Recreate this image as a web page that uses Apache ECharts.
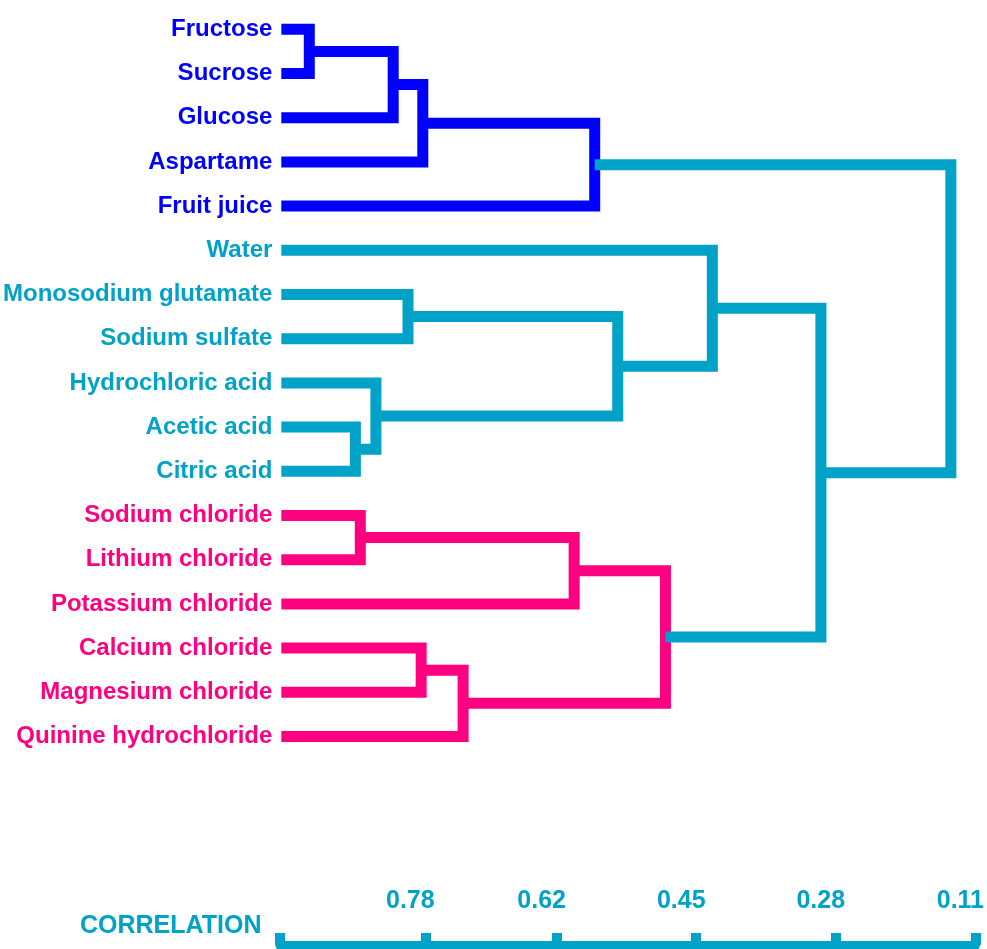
<!DOCTYPE html>
<html>
<head>
<meta charset="utf-8">
<script src="https://cdn.jsdelivr.net/npm/echarts@6/dist/echarts.min.js"></script>
<style>
  html, body { margin: 0; padding: 0; background: #ffffff; }
  #chart { width: 987px; height: 949px; }
</style>
</head>
<body>
<div id="chart"></div>
<script>
// ---- data ----
const leaves = [
  'Fructose', 'Sucrose', 'Glucose', 'Aspartame', 'Fruit juice',
  'Water', 'Monosodium glutamate', 'Sodium sulfate', 'Hydrochloric acid',
  'Acetic acid', 'Citric acid',
  'Sodium chloride', 'Lithium chloride', 'Potassium chloride',
  'Calcium chloride', 'Magnesium chloride', 'Quinine hydrochloride'
];
// cluster of each leaf: 0 = sugars, 1 = water/acids, 2 = chlorides
const leafCluster = [0, 0, 0, 0, 0, 1, 1, 1, 1, 1, 1, 2, 2, 2, 2, 2, 2];
// linkage: [child A, child B, correlation]; indices >= 17 refer to earlier merges
const mergeA    = [0, 17, 18, 19, 6, 9, 8, 21, 5, 11, 26, 14, 28, 27, 25, 20];
const mergeB    = [1, 2, 3, 4, 7, 10, 22, 23, 24, 12, 13, 15, 16, 29, 30, 31];
const mergeCorr = [0.923, 0.821, 0.785, 0.576, 0.803, 0.867, 0.842, 0.548,
                   0.433, 0.861, 0.601, 0.787, 0.736, 0.490, 0.301, 0.143];
const tickLabels = [0.78, 0.62, 0.45, 0.28, 0.11];
const axisTitle = 'CORRELATION';
const axisMin = 0.11;
const axisMax = 0.957;

// ---- styles ----
const clusterColors = ['#0000FF', '#00A2C8', '#FF0080'];
const linkColor = '#00A2C8';
const FONT = "'Liberation Sans', Arial, sans-serif";

// ---- tree geometry in data space ----
const n = leaves.length;
const nodeX = [], nodeY = [], nodeCluster = [];
for (let i = 0; i < n; i++) { nodeX.push(axisMax); nodeY.push(i); nodeCluster.push(leafCluster[i]); }
for (let k = 0; k < mergeA.length; k++) {
  const a = mergeA[k], b = mergeB[k];
  nodeX.push(mergeCorr[k]);
  nodeY.push((nodeY[a] + nodeY[b]) / 2);
  nodeCluster.push(nodeCluster[a] === nodeCluster[b] ? nodeCluster[a] : -1);
}
const mergeData = mergeA.map((a, k) => [mergeCorr[k], nodeY[n + k], k]);

const chart = echarts.init(document.getElementById('chart'));
chart.setOption({
  animation: false,
  backgroundColor: '#ffffff',
  title: {
    text: axisTitle, left: 80, top: 914, padding: 0,
    textStyle: { color: linkColor, fontSize: 25, fontWeight: 'bold', fontFamily: FONT }
  },
  grid: [
    { left: 280, right: 9, top: 29.3, height: 707.2 },
    { left: 280, right: 9, top: 930, height: 15 }
  ],
  xAxis: [
    { gridIndex: 0, type: 'value', min: axisMin, max: axisMax, inverse: true, show: false },
    {
      gridIndex: 1, type: 'value', min: axisMin, max: axisMax, inverse: true,
      position: 'bottom',
      axisLine: { show: true, onZero: false, lineStyle: { color: linkColor, width: 9 } },
      axisTick: {
        show: true, inside: true, length: 12,
        customValues: [axisMax].concat(tickLabels),
        lineStyle: { color: linkColor, width: 10 }
      },
      axisLabel: {
        show: true, inside: true, margin: 31,
        customValues: tickLabels,
        formatter: v => v.toFixed(2),
        color: linkColor, fontSize: 25, fontWeight: 'bold', fontFamily: FONT,
        padding: [0, 30, 0, 0]
      },
      splitLine: { show: false }
    }
  ],
  yAxis: [
    {
      gridIndex: 0, type: 'value', min: 0, max: n - 1, interval: 1, inverse: true,
      axisLine: { show: false }, axisTick: { show: false }, splitLine: { show: false },
      axisLabel: {
        margin: 9,
        formatter: v => leaves[Math.round(v)] || '',
        color: (v) => clusterColors[leafCluster[Math.round(+v)]],
        fontSize: 24, fontWeight: 'bold', fontFamily: FONT
      }
    },
    { gridIndex: 1, type: 'value', min: 0, max: 1, show: false }
  ],
  series: [{
    type: 'custom',
    xAxisIndex: 0, yAxisIndex: 0,
    data: mergeData,
    encode: { x: 0, y: 1 },
    silent: true,
    renderItem: function (params, api) {
      const k = api.value(2);
      const a = mergeA[k], b = mergeB[k];
      const h = mergeCorr[k];
      const c = nodeCluster[n + k];
      const p1 = api.coord([nodeX[a], nodeY[a]]);
      const p2 = api.coord([h, nodeY[a]]);
      const p3 = api.coord([h, nodeY[b]]);
      const p4 = api.coord([nodeX[b], nodeY[b]]);
      return {
        type: 'polyline',
        shape: { points: [p1, p2, p3, p4] },
        style: {
          stroke: c >= 0 ? clusterColors[c] : linkColor,
          lineWidth: 11, fill: null, lineJoin: 'miter', lineCap: 'butt'
        }
      };
    }
  }]
});
</script>
</body>
</html>
